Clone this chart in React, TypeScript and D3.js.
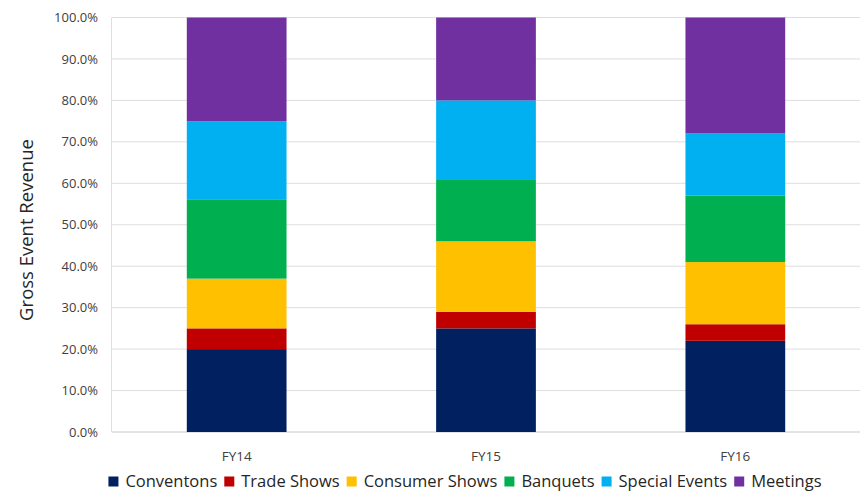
import React from "react";
import * as d3 from "d3";

const categories = ["FY14", "FY15", "FY16"];
const seriesNames = ["Conventons", "Trade Shows", "Consumer Shows", "Banquets", "Special Events", "Meetings"];
const conventions = [20, 25, 22];
const tradeShows = [5, 4, 4];
const consumerShows = [12, 17, 15];
const banquets = [19, 15, 16];
const specialEvents = [19, 19, 15];
const meetings = [25, 20, 28];
const colors = ["#002060", "#C00000", "#FFC000", "#00B050", "#00B0F0", "#7030A0"];
const yTicks = [0, 10, 20, 30, 40, 50, 60, 70, 80, 90, 100];

const W = 863;
const H = 492;
const FONT = "'Open Sans', sans-serif";

function measure(text: string, size: number) {
  const c = document.createElement("canvas").getContext("2d")!;
  c.font = `${size}px 'Open Sans'`;
  return c.measureText(text).width;
}

export default function App() {
  const seriesValues = [conventions, tradeShows, consumerShows, banquets, specialEvents, meetings];
  const rows = categories.map((c, i) => {
    const r: any = { cat: c };
    seriesNames.forEach((s, j) => (r[s] = seriesValues[j][i]));
    return r;
  });
  const stack = d3.stack<any>().keys(seriesNames).offset(d3.stackOffsetExpand);
  const stacked = stack(rows);

  const x = d3.scaleBand().domain(categories).range([112, 860]).paddingInner(0.6).paddingOuter(0.3);
  const y = d3.scaleLinear().domain([0, 1]).range([432, 17.5]);

  // legend layout
  const legSize = 16.5;
  const sq = 10;
  const gapAfterSq = 7;
  const gapItems = 7;
  const widths = seriesNames.map((s) => sq + gapAfterSq + measure(s, legSize));
  const total = d3.sum(widths) + gapItems * (seriesNames.length - 1);
  let lx = 465 - total / 2;
  const legendItems = seriesNames.map((s, i) => {
    const item = { s, x: lx, color: colors[i] };
    lx += widths[i] + gapItems;
    return item;
  });

  return (
    <svg width={W} height={H} style={{ position: "absolute", left: 0, top: 0, display: "block", background: "#fff" }}>
      {yTicks.map((t) => (
        <g key={t}>
          <line x1={112} x2={860} y1={y(t / 100)} y2={y(t / 100)} stroke={t === 0 ? "#c8c8c8" : "#dedede"} strokeWidth={1} />
          <text x={98} y={y(t / 100)} dy="0.35em" textAnchor="end" fontFamily={FONT} fontSize={13} fill="#404040">
            {d3.format(".1f")(t) + "%"}
          </text>
        </g>
      ))}
      <line x1={111.5} x2={111.5} y1={y(1)} y2={y(0)} stroke="#dedede" />
      {stacked.map((layer, i) => (
        <g key={layer.key} fill={colors[i]}>
          {layer.map((d, j) => (
            <rect key={j} x={x(categories[j])!} width={x.bandwidth()} y={y(d[1])} height={y(d[0]) - y(d[1])} />
          ))}
        </g>
      ))}
      {categories.map((c) => (
        <text key={c} x={x(c)! + x.bandwidth() / 2} y={456} dy="0.35em" textAnchor="middle" fontFamily={FONT} fontSize={13.5} fill="#404040">
          {c}
        </text>
      ))}
      <text transform={`translate(27,230) rotate(-90)`} textAnchor="middle" dy="0.35em" fontFamily={FONT} fontSize={18.5} fill="#262626">
        Gross Event Revenue
      </text>
      {legendItems.map((it) => (
        <g key={it.s}>
          <rect x={it.x} y={476.5} width={sq} height={sq} fill={it.color} />
          <text x={it.x + sq + gapAfterSq} y={481} dy="0.35em" fontFamily={FONT} fontSize={legSize} fill="#262626">
            {it.s}
          </text>
        </g>
      ))}
    </svg>
  );
}
